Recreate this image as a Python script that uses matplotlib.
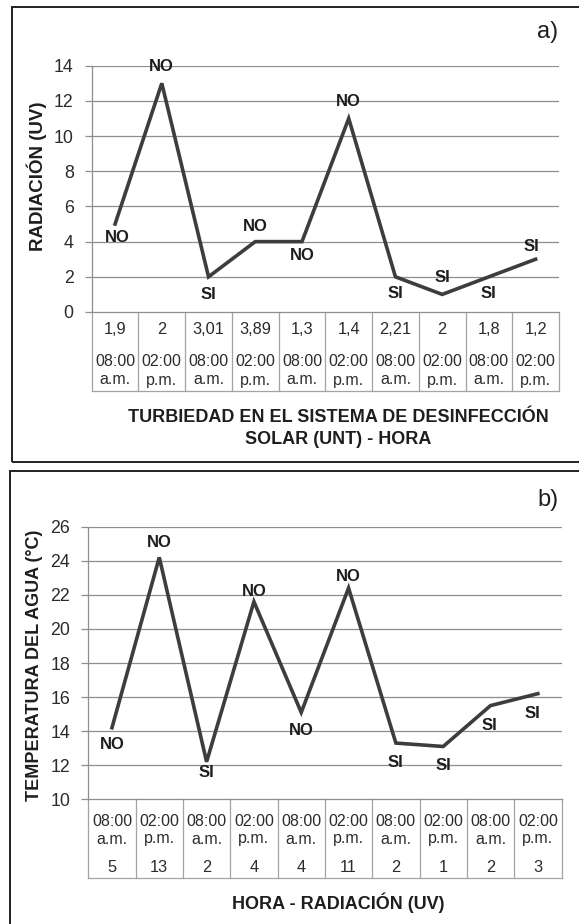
import matplotlib.pyplot as plt
from matplotlib.lines import Line2D
from matplotlib.patches import Rectangle

plt.rcParams['font.family'] = ['Liberation Sans', 'DejaVu Sans']

# data
radiacion = [5, 13, 2, 4, 4, 11, 2, 1, 2, 3]
turbiedad = ['1,9', '2', '3,01', '3,89', '1,3', '1,4', '2,21', '2', '1,8', '1,2']
horas = ['08:00', '02:00', '08:00', '02:00', '08:00', '02:00', '08:00', '02:00', '08:00', '02:00']
ampm = ['a.m.', 'p.m.', 'a.m.', 'p.m.', 'a.m.', 'p.m.', 'a.m.', 'p.m.', 'a.m.', 'p.m.']
temperatura = [14.2, 24.2, 12.2, 21.6, 15.1, 22.4, 13.3, 13.1, 15.5, 16.2]
etiq_a = ['NO', 'NO', 'SI', 'NO', 'NO', 'NO', 'SI', 'SI', 'SI', 'SI']
etiq_b = ['NO', 'NO', 'SI', 'NO', 'NO', 'NO', 'SI', 'SI', 'SI', 'SI']

W, H = 579, 924
LINE = '#3d3d3d'
GRID = '#8e8e8e'
TAB = '#a3a3a3'
TXT = '#2b2b2b'

fig = plt.figure(figsize=(W / 100, H / 100), dpi=100)


def make_ax(left, right, top, bottom):
    return fig.add_axes([left / W, 1 - bottom / H, (right - left) / W, (bottom - top) / H])


def frame(x0, y0, x1, y1):
    fig.add_artist(Rectangle((x0 / W, 1 - y1 / H), (x1 - x0) / W, (y1 - y0) / H,
                             transform=fig.transFigure, fill=False, lw=1.4,
                             edgecolor='#222222', clip_on=False))


def setup(ax, ymin, ymax, step, top, bottom):
    ax.set_xlim(0, 10)
    ax.set_ylim(ymin, ymax)
    ticks = list(range(ymin, ymax + 1, step))
    ax.set_yticks(ticks)
    ax.set_xticks([])
    for t in ticks[1:]:
        ax.axhline(t, color=GRID, lw=0.9, zorder=1)
    for s in ['top', 'right']:
        ax.spines[s].set_visible(False)
    ax.spines['left'].set_color(GRID)
    ax.spines['bottom'].set_color(GRID)
    ax.spines['left'].set_linewidth(0.9)
    ax.spines['bottom'].set_linewidth(0.9)
    ax.tick_params(axis='y', length=5, width=0.9, color=GRID, pad=8,
                   labelsize=12.8, labelcolor=TXT)
    ax.set_facecolor('none')
    return lambda py: (bottom - py) / (bottom - top)


def table(ax, fy, bottom_px):
    tr = ax.get_xaxis_transform()
    yb = fy(bottom_px)
    for i in range(11):
        ax.add_line(Line2D([i, i], [0, yb], transform=tr, color=TAB, lw=0.9, clip_on=False))
    ax.add_line(Line2D([0, 10], [yb, yb], transform=tr, color=TAB, lw=0.9, clip_on=False))


def labels(ax, xs, ys, texts, offs, dxs):
    for x, y, t, o, dx in zip(xs, ys, texts, offs, dxs):
        ax.annotate(t, (x, y), xytext=(dx, o), textcoords='offset pixels',
                    ha='center', va='center', fontsize=12, fontweight='bold',
                    color='#1e1e1e', zorder=5)


xs = [i + 0.5 for i in range(10)]

# ---- panel a
frame(12, 7, 590, 462)
top_a, bot_a = 65.7, 312
ax1 = make_ax(91.7, 559, top_a, bot_a)
fy1 = setup(ax1, 0, 14, 2, top_a, bot_a)
ax1.plot(xs, radiacion, color=LINE, lw=2.6, zorder=3, solid_joinstyle='miter')
table(ax1, fy1, 390.7)
tr1 = ax1.get_xaxis_transform()
for x, a, b, c in zip(xs, turbiedad, horas, ampm):
    ax1.text(x, fy1(330), a, transform=tr1, ha='center', va='center', fontsize=11.8, color=TXT)
    ax1.text(x, fy1(362), b, transform=tr1, ha='center', va='center', fontsize=11.5, color=TXT)
    ax1.text(x, fy1(380), c, transform=tr1, ha='center', va='center', fontsize=11.5, color=TXT)
labels(ax1, xs, radiacion, etiq_a,
       [-13, 17, -18, 15, -14, 17, -17, 17, -17, 13],
       [2, 0, 0, 0, 0, 0, 0, 0, 0, -4])
fig.text(37 / W, 1 - 176 / H, 'RADIACIÓN (UV)', rotation=90, ha='center', va='center',
         fontsize=13.5, fontweight='bold', color='#1e1e1e')
fig.text(338 / W, 1 - 418 / H, 'TURBIEDAD EN EL SISTEMA DE DESINFECCIÓN', ha='center',
         va='center', fontsize=13, fontweight='bold', color='#1e1e1e')
fig.text(338 / W, 1 - 440 / H, 'SOLAR (UNT) - HORA', ha='center', va='center',
         fontsize=13, fontweight='bold', color='#1e1e1e')
fig.text(548 / W, 1 - 32 / H, 'a)', ha='center', va='center', fontsize=17, color='#1e1e1e')

# ---- panel b
frame(9.5, 470.5, 590, 935)
top_b, bot_b = 526.7, 799.3
ax2 = make_ax(88.3, 561.5, top_b, bot_b)
fy2 = setup(ax2, 10, 26, 2, top_b, bot_b)
ax2.plot(xs, temperatura, color=LINE, lw=2.6, zorder=3, solid_joinstyle='miter')
table(ax2, fy2, 878)
tr2 = ax2.get_xaxis_transform()
for x, b, c, r in zip(xs, horas, ampm, radiacion):
    ax2.text(x, fy2(821), b, transform=tr2, ha='center', va='center', fontsize=11.5, color=TXT)
    ax2.text(x, fy2(839), c, transform=tr2, ha='center', va='center', fontsize=11.5, color=TXT)
    ax2.text(x, fy2(867), str(r), transform=tr2, ha='center', va='center', fontsize=11.8, color=TXT)
labels(ax2, xs, temperatura, etiq_b,
       [-17, 15, -11, 10, -18, 12, -19, -19, -20, -20],
       [0, 0, 0, 0, 0, 0, 0, 0, -1, -5])
fig.text(35 / W, 1 - 665 / H, 'TEMPERATURA DEL AGUA (°C)', rotation=90, ha='center',
         va='center', fontsize=13, fontweight='bold', color='#1e1e1e')
fig.text(338 / W, 1 - 903 / H, 'HORA - RADIACIÓN (UV)', ha='center', va='center',
         fontsize=13, fontweight='bold', color='#1e1e1e')
fig.text(548 / W, 1 - 500 / H, 'b)', ha='center', va='center', fontsize=17, color='#1e1e1e')

fig.savefig('out.png', dpi=100)
